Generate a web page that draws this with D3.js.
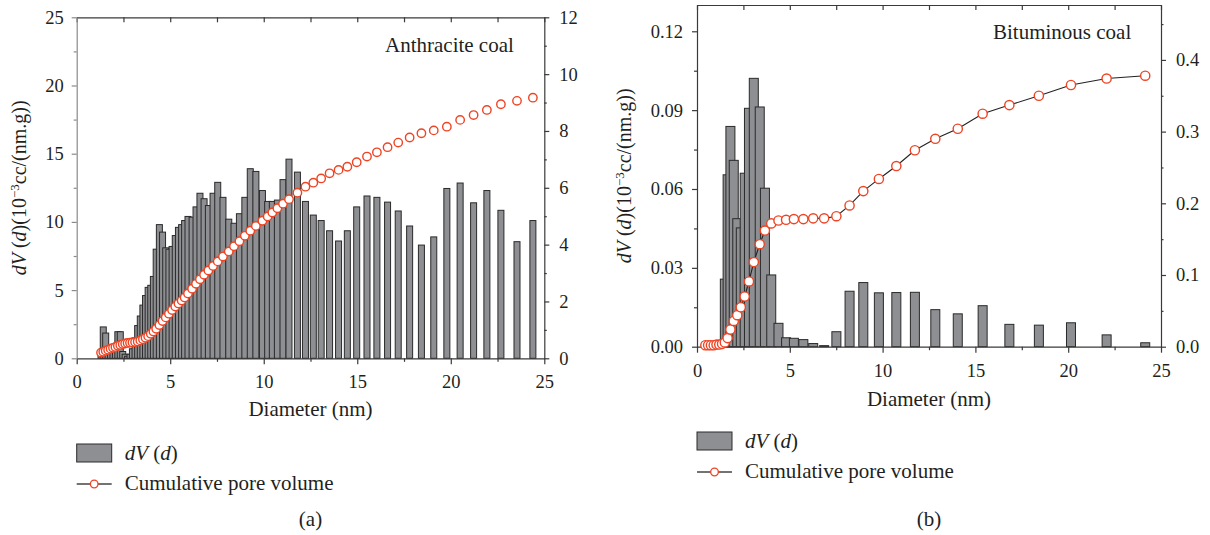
<!DOCTYPE html>
<html>
<head>
<meta charset="utf-8">
<script src="https://cdn.jsdelivr.net/npm/d3@7"></script>
<style>
  body { margin: 0; background: #fff; }
  svg text { font-family: "Liberation Serif", "Times New Roman", serif; fill: #231f20; }
</style>
</head>
<body>
<svg id="chart" width="1210" height="535"></svg>
<script>
// (a) anthracite coal: pore diameter (nm), dV(d) (10^-3 cc/(nm.g)), cumulative pore volume
const diamA = [1.30, 1.42, 1.55, 1.68, 1.81, 1.94, 2.07, 2.20, 2.33, 2.46, 2.59, 2.72, 2.85, 2.98,
  3.12, 3.26, 3.40, 3.54, 3.68, 3.82, 3.96, 4.10, 4.25, 4.42, 4.59, 4.76, 4.93, 5.10, 5.27, 5.44,
  5.61, 5.77, 5.95, 6.17, 6.38, 6.59, 6.81, 7.04, 7.29, 7.54, 7.82, 8.13, 8.41, 8.70, 8.99, 9.28,
  9.58, 9.93, 10.21, 10.46, 10.73, 11.03, 11.35, 11.80, 12.23, 12.65, 13.07, 13.52, 14.00, 14.47,
  14.97, 15.52, 16.05, 16.62, 17.19, 17.80, 18.43, 19.09, 19.79, 20.50, 21.22, 21.93, 22.68,
  23.54, 24.39];
const dvA = [0.3, 2.3, 1.85, 0.5, 0.4, 0.5, 0.7, 1.95, 1.95, 0.5, 0.3, 0.15, 0.3, 0.7,
  1.5, 2.4, 3.1, 3.9, 4.6, 5.2, 5.35, 6.0, 8.0, 9.8, 9.25, 8.1, 8.0, 8.2, 9.0, 9.6,
  9.8, 10.1, 10.4, 10.35, 11.1, 12.1, 11.7, 11.2, 12.1, 12.9, 11.8, 10.2, 9.9, 10.6, 11.8, 13.9,
  13.7, 12.3, 11.5, 11.5, 11.6, 13.1, 14.6, 13.65, 11.5, 10.5, 10.1, 9.35, 8.6, 9.35,
  11.1, 11.9, 11.8, 11.45, 10.8, 9.7, 8.3, 8.9, 12.45, 12.85, 11.4, 12.3, 10.85,
  8.55, 10.1];
const cumA = [0.20, 0.23, 0.27, 0.30, 0.34, 0.37, 0.40, 0.44, 0.47, 0.50, 0.52, 0.54, 0.55, 0.56,
  0.57, 0.59, 0.63, 0.67, 0.72, 0.78, 0.86, 0.94, 1.04, 1.17, 1.31, 1.44, 1.57, 1.70, 1.82, 1.93,
  2.03, 2.14, 2.28, 2.45, 2.62, 2.78, 2.94, 3.09, 3.25, 3.41, 3.58, 3.76, 3.94, 4.12, 4.31, 4.49,
  4.66, 4.84, 4.99, 5.13, 5.28, 5.44, 5.60, 5.83, 6.04, 6.18, 6.33, 6.51, 6.63, 6.74,
  6.90, 7.10, 7.25, 7.43, 7.59, 7.77, 7.92, 8.02, 8.15, 8.39, 8.56, 8.74, 8.94,
  9.06, 9.17];

// (b) bituminous coal
const diamB = [0.45, 0.60, 0.75, 0.90, 1.05, 1.20, 1.35, 1.50, 1.65, 1.80, 1.98, 2.17, 2.36,
  2.57, 2.80, 3.06, 3.38, 3.66, 4.00, 4.39, 4.80, 5.22, 5.73, 6.26, 6.85, 7.51, 8.22, 8.96,
  9.80, 10.74, 11.74, 12.84, 14.05, 15.39, 16.83, 18.42, 20.15, 22.07, 24.15];
const dvB = [0, 0, 0, 0, 0, 0, 0, 0.0257, 0.0654, 0.0838, 0.0709, 0.0487, 0.0452,
  0.0660, 0.0907, 0.1021, 0.0912, 0.0603, 0.0273, 0.0089, 0.0034, 0.0032, 0.0027, 0.0012, 0.0004, 0.0057, 0.0211, 0.0244,
  0.0205, 0.0206, 0.0207, 0.0141, 0.0125, 0.0156, 0.0085, 0.0082, 0.0091, 0.0045, 0.0015];
const cumB = [0.002, 0.002, 0.002, 0.002, 0.003, 0.003, 0.004, 0.006, 0.012, 0.024, 0.036, 0.044, 0.055,
  0.070, 0.091, 0.118, 0.143, 0.162, 0.172, 0.176, 0.177, 0.178, 0.178, 0.179, 0.179, 0.182, 0.197, 0.217,
  0.234, 0.252, 0.274, 0.290, 0.304, 0.325, 0.337, 0.350, 0.365, 0.374, 0.378];

// ticks
const xTicks = [0, 5, 10, 15, 20, 25];
const xMinor = [2.5, 7.5, 12.5, 17.5, 22.5];
const yTicksA = [0, 5, 10, 15, 20, 25];
const yMinorA = [2.5, 7.5, 12.5, 17.5, 22.5];
const y2TicksA = [0, 2, 4, 6, 8, 10, 12];
const y2MinorA = [1, 3, 5, 7, 9, 11];
const yTicksB = [0, 0.03, 0.06, 0.09, 0.12];
const yMinorB = [0.015, 0.045, 0.075, 0.105];
const y2TicksB = [0, 0.1, 0.2, 0.3, 0.4];
const y2MinorB = [0.05, 0.15, 0.25, 0.35, 0.45];

const svg = d3.select('#chart');
const FONT = '"Liberation Serif", "Times New Roman", serif';
const BAR_FILL = '#8e8f92';
const BAR_STROKE = '#2a2a2a';
const RED = '#ee4424';
const AXIS = '#3a3a3a';

function styleAxis(g, color, fontSize) {
  g.attr('font-size', fontSize).attr('font-family', FONT);
  g.select('.domain').attr('stroke', color).attr('stroke-width', 1.2);
  g.selectAll('.tick line').attr('stroke', color).attr('stroke-width', 1.2);
  g.selectAll('.tick text').attr('fill', '#231f20').attr('font-family', FONT);
}

function addAxis(gen, tx, ty, color, labelled) {
  const g = svg.append('g').attr('transform', `translate(${tx},${ty})`).call(gen);
  styleAxis(g, color, 18.5);
  if (!labelled) g.select('.domain').remove();
  return g;
}

function label(x, y, size) {
  return svg.append('text')
    .attr('x', x).attr('y', y)
    .attr('font-family', FONT)
    .attr('font-size', size);
}

function dvLabel(sel) {
  sel.append('tspan').attr('font-style', 'italic').text('dV');
  sel.append('tspan').text(' (');
  sel.append('tspan').attr('font-style', 'italic').text('d');
  sel.append('tspan').text(')');
}

function drawPanel(p) {
  const x = d3.scaleLinear().domain([0, 25]).range([p.left, p.right]);
  const y = d3.scaleLinear().domain([0, p.yMax]).range([p.bottom, p.top]);
  const y2 = d3.scaleLinear().domain([0, p.y2Max]).range([p.bottom, p.top]);

  const rows = p.diam.map((d, i) => ({ d, v: p.dv[i], c: p.cum[i] }));

  // bars, drawn left to right so later bars sit over earlier ones
  svg.append('g').selectAll('rect')
    .data(rows.filter(r => r.v > 0))
    .join('rect')
    .attr('x', r => x(r.d) - p.barW / 2)
    .attr('width', p.barW)
    .attr('y', r => y(r.v))
    .attr('height', r => y(0) - y(r.v))
    .attr('fill', BAR_FILL)
    .attr('stroke', BAR_STROKE)
    .attr('stroke-width', 1);

  // axes
  addAxis(d3.axisBottom(x).tickValues(xTicks).tickSize(6).tickSizeOuter(0).tickPadding(11),
    0, p.bottom, AXIS, true);
  addAxis(d3.axisBottom(x).tickValues(xMinor).tickSize(3.5).tickFormat(''), 0, p.bottom, AXIS, false);
  addAxis(d3.axisBottom(x).tickValues(xTicks.concat(xMinor)).tickSize(5).tickSizeOuter(0).tickFormat(''),
    0, p.top, AXIS, true);
  addAxis(d3.axisLeft(y).tickValues(p.yTicks).tickSize(5).tickSizeOuter(0).tickPadding(p.leftPad)
    .tickFormat(p.yFormat), p.left, 0, p.leftColor, true);
  addAxis(d3.axisLeft(y).tickValues(p.yMinor).tickSize(3).tickFormat(''), p.left, 0, p.leftColor, false);
  addAxis(d3.axisRight(y2).tickValues(p.y2Ticks).tickSize(5).tickSizeOuter(0).tickPadding(10)
    .tickFormat(p.y2Format), p.right, 0, AXIS, true);
  addAxis(d3.axisRight(y2).tickValues(p.y2Minor.filter(v => v <= p.y2Max)).tickSize(2.5).tickFormat(''),
    p.right, 0, AXIS, false);

  // cumulative pore volume
  if (p.showLine) {
    svg.append('path')
      .datum(rows)
      .attr('fill', 'none')
      .attr('stroke', '#222')
      .attr('stroke-width', 1.1)
      .attr('d', d3.line().x(r => x(r.d)).y(r => y2(r.c)));
  }
  svg.append('g').selectAll('circle')
    .data(rows)
    .join('circle')
    .attr('cx', r => x(r.d))
    .attr('cy', r => y2(r.c))
    .attr('r', p.r)
    .attr('fill', '#fff')
    .attr('stroke', RED)
    .attr('stroke-width', 1.4);

  // titles
  label((p.left + p.right) / 2, p.xTitleY, 21)
    .attr('text-anchor', 'middle')
    .text('Diameter (nm)');

  const yt = svg.append('text')
    .attr('transform', `translate(${p.yTitleX},${(p.top + p.bottom) / 2}) rotate(-90)`)
    .attr('text-anchor', 'middle')
    .attr('font-family', FONT)
    .attr('font-size', 20);
  dvLabel(yt);
  yt.append('tspan').text('(10');
  yt.append('tspan').attr('font-size', 13).attr('dy', -7).text('\u22123');
  yt.append('tspan').attr('font-size', 20).attr('dy', 7).text('cc/(nm.g))');

  label(p.nameX, p.nameY, 21).text(p.name);

  // legend
  const lx = p.left;
  svg.append('rect')
    .attr('x', lx).attr('y', p.legY)
    .attr('width', 35).attr('height', 18)
    .attr('fill', BAR_FILL).attr('stroke', BAR_STROKE).attr('stroke-width', 1);
  dvLabel(label(lx + 48, p.legY + 16, 21));

  const ly = p.legY + 40;
  svg.append('line')
    .attr('x1', lx).attr('x2', lx + 35).attr('y1', ly).attr('y2', ly)
    .attr('stroke', '#444').attr('stroke-width', 1.5);
  svg.append('circle')
    .attr('cx', lx + 17.5).attr('cy', ly).attr('r', 3.8)
    .attr('fill', '#fff').attr('stroke', RED).attr('stroke-width', 1.3);
  label(lx + 48, ly + 6, 21).text('Cumulative pore volume');

  label((p.left + p.right) / 2, 526, 21)
    .attr('text-anchor', 'middle')
    .text(p.tag);
}

drawPanel({
  left: 76.7, right: 544.3, top: 17.3, bottom: 358.3,
  diam: diamA, dv: dvA, cum: cumA,
  yMax: 25, y2Max: 12,
  yTicks: yTicksA, yMinor: yMinorA, y2Ticks: y2TicksA, y2Minor: y2MinorA,
  yFormat: d3.format('d'), y2Format: d3.format('d'),
  leftColor: '#8a8a8a', leftPad: 8,
  barW: 6, r: 4.2, showLine: false,
  xTitleY: 416, yTitleX: 26,
  name: 'Anthracite coal', nameX: 385, nameY: 52,
  legY: 444, tag: '(a)',
});

drawPanel({
  left: 697, right: 1161, top: 5, bottom: 346.7,
  diam: diamB, dv: dvB, cum: cumB,
  yMax: 0.13, y2Max: 0.4766,
  yTicks: yTicksB, yMinor: yMinorB, y2Ticks: y2TicksB, y2Minor: y2MinorB,
  yFormat: d3.format('.2f'), y2Format: d3.format('.1f'),
  leftColor: AXIS, leftPad: 9,
  barW: 9, r: 4.6, showLine: true,
  xTitleY: 406, yTitleX: 631,
  name: 'Bituminous coal', nameX: 993, nameY: 39,
  legY: 432, tag: '(b)',
});
</script>
</body>
</html>
